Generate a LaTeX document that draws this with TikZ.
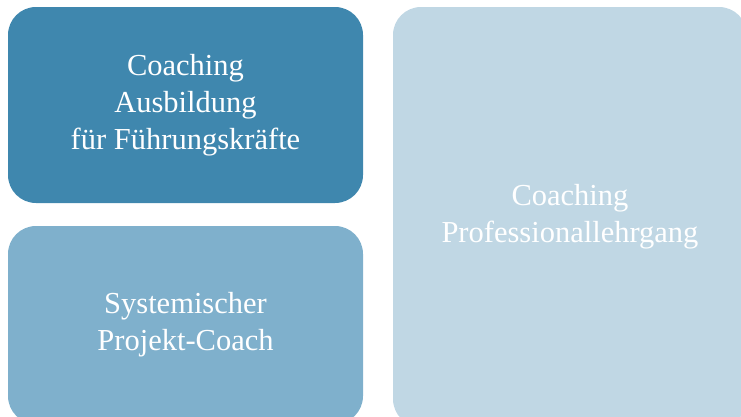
\documentclass[tikz,border=0pt]{standalone}
\usepackage{fontspec}
\setmainfont{Liberation Serif}
\usepackage{tikz}

\definecolor{darkblue}{HTML}{3F87AE}
\definecolor{midblue}{HTML}{7FB0CC}
\definecolor{paleblue}{HTML}{C0D7E4}

\tikzset{
  tile/.style={rectangle, rounded corners=28pt, inner sep=0pt,
    text=white, align=center, font=\fontsize{30.5}{37}\selectfont}
}

\begin{document}
\begin{tikzpicture}[x=1pt, y=-1pt]
\useasboundingbox (0, 0) rectangle (741, 416);
\clip (0, 0) rectangle (741, 416);

\node [tile, fill=darkblue, minimum width=355pt, minimum height=196pt] (ausbildung) at (185.5, 105) {Coaching\\Ausbildung\\für Führungskräfte};
\node [tile, fill=midblue, minimum width=355pt, minimum height=198pt] (projekt) at (185.5, 325) {Systemischer\\Projekt-Coach};
\node [tile, fill=paleblue, minimum width=354pt, minimum height=420pt] (lehrgang) at (570, 217) {Coaching\\Professionallehrgang};
%\node [below] at (185.5, 416) {};

\end{tikzpicture}
\end{document}
